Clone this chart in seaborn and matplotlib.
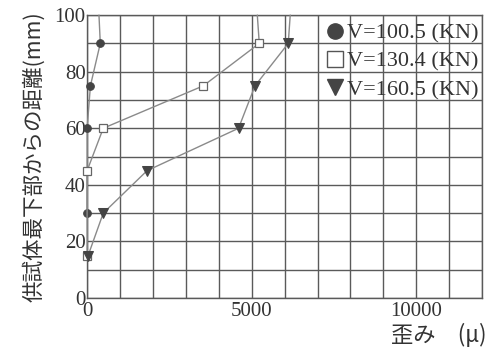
import matplotlib
matplotlib.use("Agg")
import matplotlib.pyplot as plt
from matplotlib.lines import Line2D
from matplotlib.ticker import MultipleLocator
import seaborn as sns
import pandas as pd

# Strain (μ) against height from the specimen bottom (mm) for three load levels
labels = ["V=100.5 (KN)", "V=130.4 (KN)", "V=160.5 (KN)"]

strain_100 = [0, 0, 100, 400, 360]
height_100 = [30, 60, 75, 90, 100]

strain_130 = [0, 0, 490, 3530, 5230, 5170]
height_130 = [15, 45, 60, 75, 90, 100]

strain_160 = [30, 490, 1820, 4600, 5100, 6110, 6170]
height_160 = [15, 30, 45, 60, 75, 90, 100]

x_ticks = [0, 5000, 10000]
y_ticks = [0, 20, 40, 60, 80, 100]

sns.set_theme(style="white")
plt.rcParams["font.family"] = ["Liberation Serif", "Noto Sans CJK JP"]

fig = plt.figure(figsize=(4.95, 3.51), dpi=100)
ax = fig.add_axes([0.176, 0.151, 0.798, 0.806])

grid_c = "#5a5a5a"
line_c = "#8a8a8a"
mark_c = "#444444"

series = [
    (strain_100, height_100, dict(marker="o", markersize=5.5, markerfacecolor=mark_c,
                                  markeredgecolor=mark_c)),
    (strain_130, height_130, dict(marker="s", markersize=6, markerfacecolor="white",
                                  markeredgecolor="#666666", markeredgewidth=0.9)),
    (strain_160, height_160, dict(marker="v", markersize=6.5, markerfacecolor=mark_c,
                                  markeredgecolor=mark_c)),
]

for (xs, ys, style), lab in zip(series, labels):
    df = pd.DataFrame({"strain": xs, "height": ys})
    sns.lineplot(data=df, x="strain", y="height", sort=False, estimator=None,
                 color=line_c, linewidth=1.0, markevery=list(range(len(xs) - 1)),
                 ax=ax, legend=False, zorder=3, clip_on=False, **style)

ax.set_xlim(0, 12000)
ax.set_ylim(0, 100)
ax.xaxis.set_minor_locator(MultipleLocator(1000))
ax.yaxis.set_minor_locator(MultipleLocator(10))
ax.set_xticks(x_ticks)
ax.set_yticks(y_ticks)
ax.set_xticklabels([str(v) for v in x_ticks])
ax.set_yticklabels([str(v) for v in y_ticks])
ax.grid(True, which="both", color=grid_c, linewidth=1.0)
ax.set_axisbelow(True)
ax.tick_params(axis="both", which="both", length=0, labelsize=15, colors="#333333")
ax.tick_params(axis="x", pad=3)
ax.tick_params(axis="y", pad=1)
for s in ax.spines.values():
    s.set_color(grid_c)
    s.set_linewidth(1.0)

ax.set_xlabel("")
ax.set_ylabel("供試体最下部からの距離(mm)", fontsize=15.5, color="#333333",
              family=["Noto Sans CJK JP"], labelpad=7)
fig.text(0.982, 0.012, "歪み　(μ)", ha="right", va="bottom", fontsize=16,
         color="#333333", family=["Noto Sans CJK JP", "Liberation Serif"])

handles = [
    Line2D([], [], linestyle="none", marker="o", markersize=11,
           markerfacecolor=mark_c, markeredgecolor=mark_c),
    Line2D([], [], linestyle="none", marker="s", markersize=11,
           markerfacecolor="white", markeredgecolor="#555555", markeredgewidth=1.0),
    Line2D([], [], linestyle="none", marker="v", markersize=12,
           markerfacecolor=mark_c, markeredgecolor=mark_c),
]
leg = ax.legend(handles, labels, loc="upper right", bbox_to_anchor=(1.025, 1.02),
                frameon=False, fontsize=16, handlelength=0.8, handletextpad=0.15,
                labelspacing=0.35, borderpad=0.1)
for t in leg.get_texts():
    t.set_color("#333333")

fig.savefig("out.png", dpi=100)
